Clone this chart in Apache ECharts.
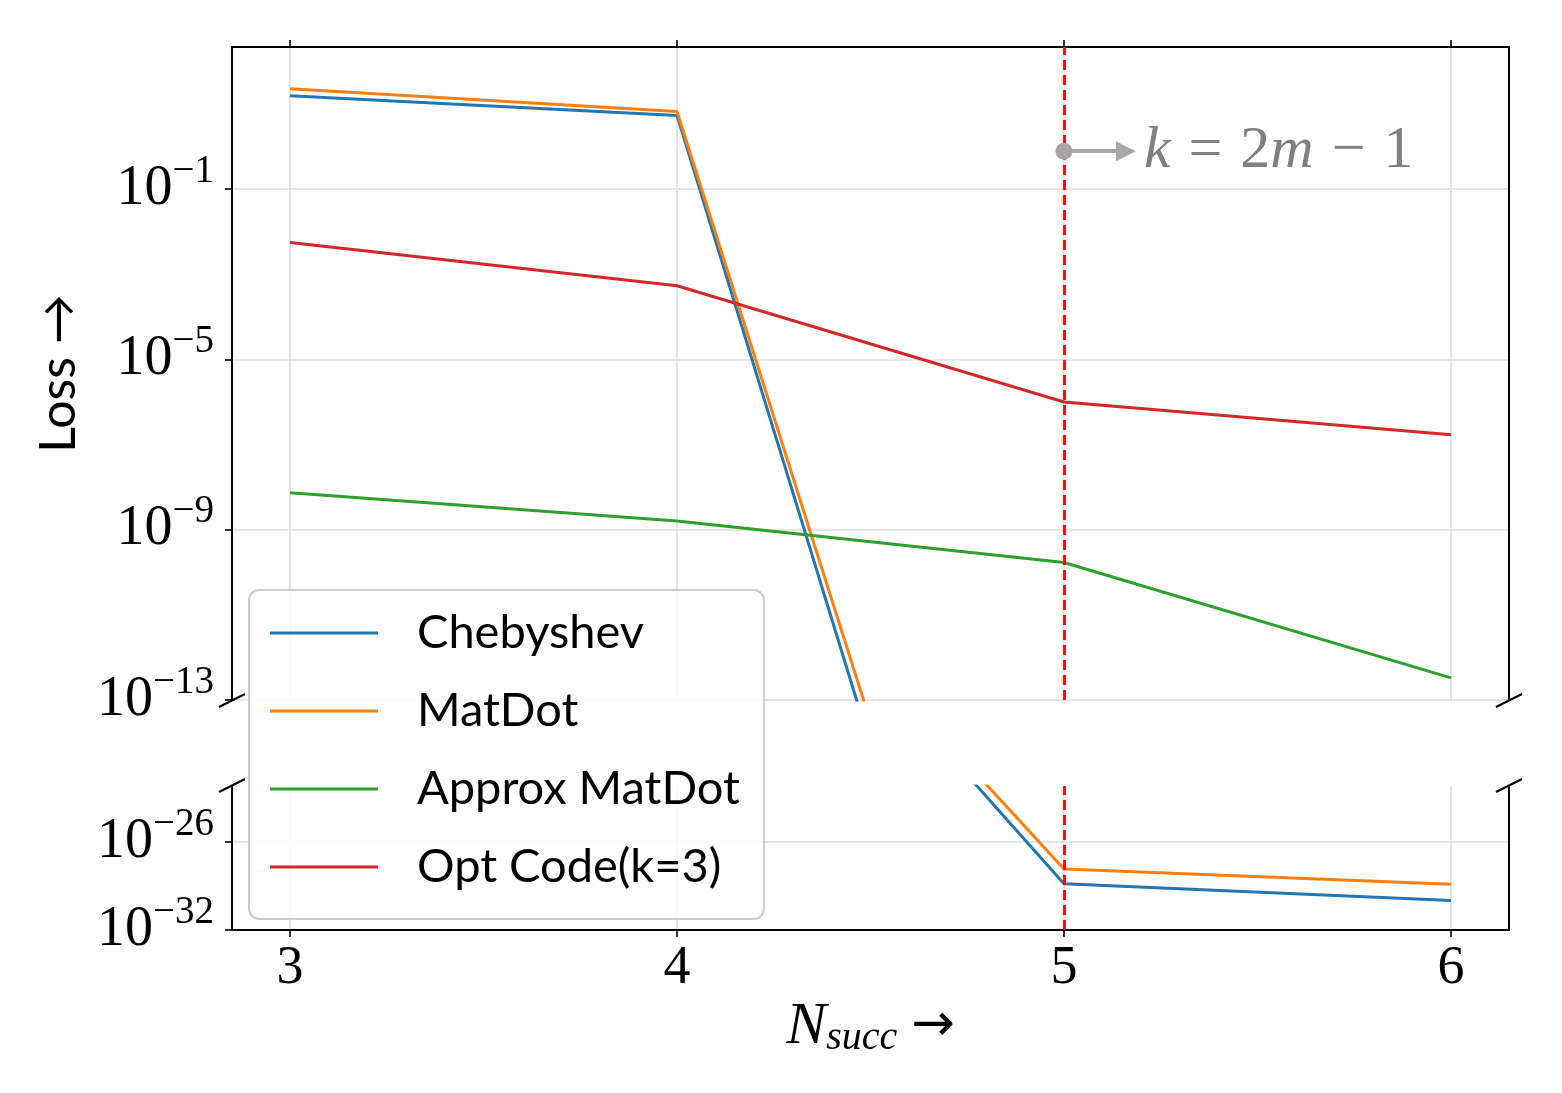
<!DOCTYPE html>
<html><head><meta charset="utf-8">
<script src="https://cdn.jsdelivr.net/npm/echarts@6/dist/echarts.min.js"></script>
<style>html,body{margin:0;padding:0;background:#fff}#c{width:1562px;height:1093px}</style>
</head><body><div id="c"></div>
<script>
// ---- data ----
const nSucc = [3, 4, 5, 6];
const chebyshev = [15.7, 5.4, 1.4e-29, 1.0e-30];
const matDot = [22.9, 6.7, 1.4e-28, 1.3e-29];
const approxMatDot = [7.4e-9, 1.6e-9, 1.7e-10, 3.3e-13];
const optCode = [5.6e-3, 5.4e-4, 1.0e-6, 1.7e-7];
const seriesNames = ['Chebyshev', 'MatDot', 'Approx MatDot', 'Opt Code(k=3)'];
const xTicks = [3, 4, 5, 6];
const topExpRange = [-13, 2.34];     // upper panel, log10(loss)
const bottomExpRange = [-32, -22.2]; // lower panel, log10(loss)
const topExpStep = 4;
const bottomExpStep = 6;
const markX = 5;
const annotLoss = 0.78;
const annotEndX = 5.16;

// ---- layout / style ----
const colors = ['#1f77b4', '#ff7f0e', '#2ca02c', '#d62728'];
const allValues = [chebyshev, matDot, approxMatDot, optCode];
const L = 232, R = 1509, T1 = 47, B1 = 700, T2 = 786, B2 = 930;
const serif = 'Liberation Serif';
const sans = 'Lato';
const gridColor = '#dedede';

const chart = echarts.init(document.getElementById('c'), null, {renderer: 'canvas'});

function expLabel(v) {
  if (Math.abs(v - Math.round(v)) > 1e-9) return '';
  const e = Math.round(v);
  return '{b|10}{s|' + (e < 0 ? '\u2212' + (-e) : e) + '}';
}
const yLabelRich = {
  b: {fontFamily: serif, fontSize: 56, color: '#000', lineHeight: 56, verticalAlign: 'bottom'},
  s: {fontFamily: serif, fontSize: 39, color: '#000', lineHeight: 39, verticalAlign: 'bottom', padding: [0, 0, 26, 0]}
};

function xAxisDef(gi, pos, labels) {
  return {
    gridIndex: gi, type: 'value', position: pos,
    min: 2.85, max: 6.15, minInterval: 1, maxInterval: 1, splitNumber: 3,
    axisLine: {show: true, onZero: false, lineStyle: {color: '#000', width: 2}},
    axisTick: {show: true, length: 7, customValues: xTicks, lineStyle: {color: '#000', width: 1.6}},
    axisLabel: {show: labels, customValues: xTicks, margin: 12,
      formatter: v => Number.isInteger(v) ? String(v) : '',
      fontFamily: serif, fontSize: 54, color: '#000', lineHeight: 54},
    splitLine: {show: true, lineStyle: {color: gridColor, width: 1.6}}
  };
}
function yLeft(gi, range, step, extra) {
  return Object.assign({
    gridIndex: gi, type: 'value', position: 'left',
    min: range[0], max: range[1], interval: step,
    axisLine: {show: true, onZero: false, lineStyle: {color: '#000', width: 2}},
    axisTick: {show: true, length: 7, lineStyle: {color: '#000', width: 1.6}},
    axisLabel: {show: true, margin: 18, showMaxLabel: false, formatter: expLabel, rich: yLabelRich},
    splitLine: {show: true, showMaxLine: false, lineStyle: {color: gridColor, width: 1.6}}
  }, extra || {});
}
function yRight(gi, range) {
  return {
    gridIndex: gi, type: 'value', position: 'right',
    min: range[0], max: range[1],
    axisLine: {show: true, onZero: false, lineStyle: {color: '#000', width: 2}},
    axisTick: {show: false}, axisLabel: {show: false}, splitLine: {show: false}
  };
}

const series = [];
[0, 1].forEach(panel => {
  seriesNames.forEach((name, i) => {
    const s = {
      name: name, type: 'line',
      xAxisIndex: panel, yAxisIndex: panel === 0 ? 0 : 2,
      data: nSucc.map((x, k) => [x, Math.log10(allValues[i][k])]),
      symbol: 'none', showSymbol: false, clip: true,
      color: colors[i], itemStyle: {color: colors[i]},
      lineStyle: {color: colors[i], width: 3},
      z: 3
    };
    if (i === 0) {
      s.markLine = {
        silent: true, symbol: 'none', animation: false,
        label: {show: false},
        lineStyle: {color: '#ff0000', type: [10, 5], width: 2.8},
        data: [{xAxis: markX}]
      };
    }
    if (panel === 0 && i === 3) {
      const ay = Math.log10(annotLoss);
      s.markLine = {
        silent: true, animation: false,
        lineStyle: {color: '#a9a7a7', type: 'solid', width: 4},
        data: [[
          {coord: [markX, ay], symbol: 'circle', symbolSize: 17},
          {coord: [annotEndX, ay], symbol: 'triangle', symbolSize: 20,
            label: {show: true, position: 'end', distance: 18,
              formatter: '{i|k}{o|=}{r|2}{i|m}{o|\u2212}{r|1}',
              rich: {
                i: {fontFamily: serif, fontStyle: 'italic', fontSize: 60, color: '#808080'},
                r: {fontFamily: serif, fontSize: 60, color: '#808080'},
                o: {fontFamily: serif, fontSize: 60, color: '#808080', padding: [0, 18, 0, 18]}
              }}}
        ]]
      };
    }
    series.push(s);
  });
});

const option = {
  animation: false,
  backgroundColor: '#fff',
  grid: [
    {left: L, top: T1, width: R - L, height: B1 - T1, containLabel: false},
    {left: L, top: T2, width: R - L, height: B2 - T2, containLabel: false}
  ],
  xAxis: [
    xAxisDef(0, 'top', false),
    Object.assign(xAxisDef(1, 'bottom', true), {
      name: '{n|N}{sub|succ}{a|\u2192}', nameLocation: 'middle', nameGap: 62,
      nameTextStyle: {rich: {
        n: {fontFamily: serif, fontStyle: 'italic', fontSize: 60, color: '#000'},
        sub: {fontFamily: serif, fontStyle: 'italic', fontSize: 40, color: '#000', padding: [24, 0, 0, 0]},
        a: {fontFamily: 'DejaVu Sans', fontSize: 52, color: '#000', padding: [0, 0, 0, 14]}
      }}
    })
  ],
  yAxis: [
    yLeft(0, topExpRange, topExpStep, {
      name: 'Loss \u2192', nameLocation: 'middle', nameRotate: 90, nameGap: 148,
      nameTextStyle: {fontFamily: sans, fontSize: 50, color: '#000'}
    }),
    yRight(0, topExpRange),
    yLeft(1, bottomExpRange, bottomExpStep),
    yRight(1, bottomExpRange)
  ],
  legend: {
    orient: 'vertical', left: 249, top: 590,
    data: seriesNames, icon: 'rect', itemWidth: 108, itemHeight: 3, itemGap: 28,
    padding: [18, 24, 27, 21],
    backgroundColor: 'rgba(255,255,255,0.85)', borderColor: '#cccccc', borderWidth: 2, borderRadius: 10,
    selectedMode: false, z: 20,
    textStyle: {fontFamily: sans, fontSize: 47, color: '#000', lineHeight: 50, padding: [0, 0, 0, 34]}
  },
  graphic: [
    // axis-break marks at the ends of the cut spines
    {type: 'line', shape: {x1: L - 13, y1: B1 + 7, x2: L + 13, y2: B1 - 6}, style: {stroke: '#000', lineWidth: 2}, z: 30},
    {type: 'line', shape: {x1: R - 13, y1: B1 + 7, x2: R + 13, y2: B1 - 6}, style: {stroke: '#000', lineWidth: 2}, z: 30},
    {type: 'line', shape: {x1: L - 13, y1: T2 + 6, x2: L + 13, y2: T2 - 7}, style: {stroke: '#000', lineWidth: 2}, z: 30},
    {type: 'line', shape: {x1: R - 13, y1: T2 + 6, x2: R + 13, y2: T2 - 7}, style: {stroke: '#000', lineWidth: 2}, z: 30}
  ],
  series: series
};
chart.setOption(option);
</script></body></html>
